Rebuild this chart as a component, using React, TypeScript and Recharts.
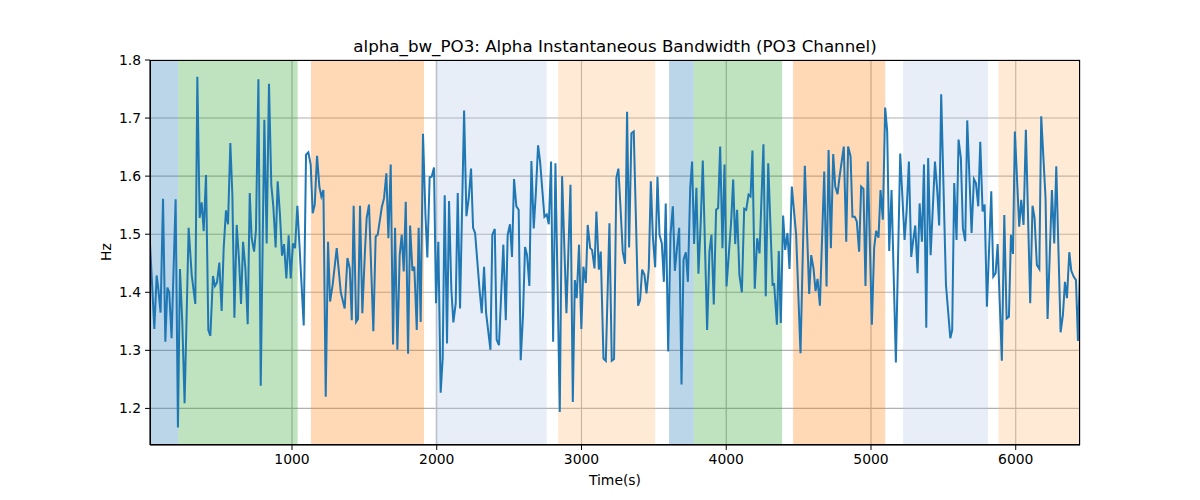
import React from "react";
import {
  LineChart, Line, XAxis, YAxis, CartesianGrid, ReferenceArea,
} from "recharts";

// time stamps (s) and alpha bandwidth (Hz)
const times = [
  19, 49, 65, 76, 92, 109, 125, 139, 152, 168, 196, 212, 226, 242, 258, 286, 307, 332, 346, 362,
  376, 390, 406, 422, 436, 454, 468, 482, 498, 514, 528, 544, 558, 574, 588, 602, 618, 634, 648, 662,
  678, 694, 708, 721, 738, 751, 768, 784, 809,
  825, 841, 857, 871, 887, 901, 917, 931, 945, 961, 977, 991, 1007, 1021, 1037, 1081, 1097, 1113, 1129, 1143,
  1157, 1173, 1189, 1203, 1217, 1233, 1249, 1263, 1281, 1309, 1337, 1364, 1383, 1399, 1413, 1426, 1443, 1456, 1470, 1486,
  1505, 1516, 1532, 1562, 1578, 1592,
  1620, 1636, 1652, 1666, 1682, 1698, 1712, 1728, 1744, 1758, 1772, 1786, 1802, 1816, 1832, 1845, 1862, 1875, 1889, 1905,
  1922, 1935, 1951, 1965, 1981, 1995, 2011, 2027, 2041, 2055, 2071, 2085, 2101, 2115, 2131, 2145, 2161, 2189, 2205, 2221,
  2237, 2251, 2265, 2295, 2311, 2327, 2341, 2371,
  2384, 2401, 2414, 2430, 2460, 2477, 2490, 2506, 2520, 2534, 2550, 2566, 2580, 2596, 2610, 2624, 2640, 2654, 2670, 2684,
  2700, 2714, 2730, 2744, 2760, 2774, 2790, 2804, 2820, 2850, 2866, 2896, 2924, 2940, 2954, 2967, 2983, 2999, 3013, 3030,
  3043, 3060, 3073, 3090, 3103, 3120, 3133, 3152, 3168, 3193,
  3209, 3225, 3241, 3255, 3271, 3285, 3301, 3315, 3329, 3345, 3361, 3391, 3405, 3419, 3435, 3449, 3465, 3479, 3493, 3509,
  3525, 3539, 3555, 3569, 3582, 3599, 3615, 3631, 3645, 3661, 3675, 3691, 3705, 3721, 3735, 3751, 3764, 3778, 3794, 3808,
  3824, 3838, 3868, 3884, 3898, 3914, 3930, 3944, 3958, 3974, 3988,
  4002, 4034, 4048, 4062, 4075, 4091, 4108, 4124, 4138, 4154, 4168, 4181, 4197, 4214, 4230, 4257, 4273, 4290, 4320, 4331,
  4350, 4363, 4377, 4393, 4407, 4423, 4437, 4453, 4483, 4513, 4543, 4573, 4587, 4603, 4617, 4631, 4647, 4677, 4693, 4707,
  4723, 4739, 4753,
  4769, 4783, 4812, 4829, 4842, 4859, 4872, 4888, 4902, 4918, 4932, 4948, 4962, 4978, 5006, 5022, 5036, 5052, 5066, 5082,
  5098, 5112, 5126, 5142, 5172, 5202, 5232, 5246, 5262, 5278, 5292, 5306, 5322, 5336, 5352, 5366, 5382, 5395, 5412, 5442,
  5458, 5471, 5485, 5518, 5548,
  5561, 5575, 5591, 5605, 5621, 5635, 5651, 5665, 5695, 5711, 5725, 5741, 5755, 5771, 5785, 5801, 5831, 5845, 5861, 5875,
  5904, 5921, 5937, 5953, 5967, 5981, 5994, 6024, 6038, 6054, 6070, 6100, 6116, 6130, 6146, 6163, 6176, 6206, 6220, 6250,
  6266, 6280, 6310, 6326, 6340, 6354, 6370, 6384, 6400, 6416, 6430, 6444,
];

const bandwidth = [
  1.484, 1.337, 1.429, 1.407, 1.365, 1.561, 1.315, 1.408, 1.4, 1.321, 1.56, 1.167, 1.44, 1.349, 1.209, 1.511, 1.43, 1.38, 1.771, 1.528,
  1.555, 1.505, 1.602, 1.335, 1.325, 1.428, 1.411, 1.417, 1.451, 1.368, 1.476, 1.541, 1.517, 1.657, 1.568, 1.356, 1.516, 1.456, 1.38, 1.487,
  1.441, 1.345, 1.571, 1.494, 1.47, 1.507, 1.767, 1.239, 1.697,
  1.484, 1.759, 1.585, 1.548, 1.477, 1.591, 1.533, 1.463, 1.483, 1.424, 1.498, 1.424, 1.484, 1.476, 1.549, 1.343, 1.637, 1.641, 1.62, 1.536,
  1.551, 1.635, 1.582, 1.565, 1.576, 1.22, 1.487, 1.384, 1.413, 1.476, 1.4, 1.372, 1.459, 1.441, 1.352, 1.549, 1.349, 1.354, 1.549, 1.364,
  1.476, 1.528, 1.551, 1.333, 1.496, 1.499,
  1.546, 1.562, 1.605, 1.493, 1.62, 1.31, 1.511, 1.301, 1.464, 1.499, 1.436, 1.556, 1.294, 1.515, 1.437, 1.444, 1.335, 1.511, 1.349, 1.673,
  1.533, 1.46, 1.598, 1.599, 1.615, 1.381, 1.487, 1.227, 1.286, 1.567, 1.312, 1.557, 1.404, 1.348, 1.381, 1.571, 1.372, 1.713, 1.531, 1.562,
  1.613, 1.511, 1.502, 1.407, 1.364, 1.444, 1.364, 1.301,
  1.499, 1.509, 1.318, 1.309, 1.482, 1.352, 1.499, 1.517, 1.461, 1.595, 1.548, 1.542, 1.283, 1.361, 1.478, 1.464, 1.411, 1.626, 1.51, 1.568,
  1.653, 1.625, 1.574, 1.53, 1.534, 1.517, 1.625, 1.315, 1.622, 1.194, 1.6, 1.364, 1.585, 1.211, 1.421, 1.39, 1.482, 1.337, 1.444, 1.416,
  1.516, 1.476, 1.473, 1.441, 1.539, 1.439, 1.47, 1.286, 1.282, 1.519,
  1.282, 1.285, 1.597, 1.613, 1.539, 1.47, 1.449, 1.711, 1.477, 1.674, 1.677, 1.377, 1.387, 1.439, 1.43, 1.398, 1.441, 1.591, 1.496, 1.443,
  1.599, 1.499, 1.484, 1.418, 1.553, 1.298, 1.499, 1.548, 1.437, 1.479, 1.511, 1.241, 1.456, 1.469, 1.418, 1.579, 1.625, 1.483, 1.58, 1.432,
  1.522, 1.627, 1.335, 1.47, 1.499, 1.379, 1.542, 1.545, 1.651, 1.476, 1.62,
  1.41, 1.522, 1.594, 1.483, 1.542, 1.43, 1.4, 1.544, 1.542, 1.568, 1.565, 1.644, 1.406, 1.493, 1.467, 1.655, 1.393, 1.622, 1.413, 1.414,
  1.344, 1.471, 1.347, 1.532, 1.473, 1.502, 1.44, 1.582, 1.499, 1.295, 1.618, 1.397, 1.464, 1.441, 1.402, 1.423, 1.377, 1.608, 1.41, 1.645,
  1.476, 1.638, 1.582,
  1.569, 1.599, 1.651, 1.487, 1.651, 1.634, 1.53, 1.53, 1.522, 1.47, 1.582, 1.578, 1.411, 1.625, 1.344, 1.477, 1.506, 1.494, 1.576, 1.525,
  1.718, 1.677, 1.471, 1.576, 1.279, 1.639, 1.49, 1.539, 1.625, 1.461, 1.49, 1.515, 1.433, 1.553, 1.487, 1.62, 1.339, 1.631, 1.464, 1.625,
  1.574, 1.515, 1.741, 1.413, 1.321,
  1.335, 1.588, 1.49, 1.663, 1.631, 1.51, 1.488, 1.696, 1.502, 1.595, 1.588, 1.548, 1.659, 1.539, 1.551, 1.375, 1.574, 1.427, 1.433, 1.483,
  1.282, 1.533, 1.355, 1.358, 1.499, 1.466, 1.677, 1.513, 1.559, 1.516, 1.68, 1.381, 1.549, 1.528, 1.447, 1.44, 1.703, 1.562, 1.354, 1.576,
  1.484, 1.617, 1.331, 1.361, 1.418, 1.39, 1.469, 1.437, 1.427, 1.421, 1.316, 1.446,
];

// shaded segments
const segStart = [19, 214, 1131, 1988, 2838, 3605, 3776, 4462, 5222, 5881];
const segEnd = [214, 1039, 1912, 2760, 3509, 3776, 4386, 5098, 5808, 6444];
const segKind = ["a", "b", "c", "d", "e", "a", "b", "c", "d", "e"];

const xTicks = [1000, 2000, 3000, 4000, 5000, 6000];
const yTicks = [1.2, 1.3, 1.4, 1.5, 1.6, 1.7, 1.8];

const SEG_COLORS: Record<string, string> = {
  a: "#1f77b4",
  b: "#2ca02c",
  c: "#ff7f0e",
  d: "#aec7e8",
  e: "#ffbb78",
};

const FONT = "'DejaVu Sans', sans-serif";

export default function App() {
  const data = times.map((t, i) => ({ t, v: bandwidth[i] }));
  const tickStyle = { fill: "#000", fontSize: 13.9, fontFamily: FONT };

  return (
    <div style={{ position: "absolute", left: 0, top: 0, width: 1200, height: 500, background: "#fff" }}>
      <LineChart
        width={1200}
        height={500}
        data={data}
        margin={{ top: 60, right: 120, bottom: 0, left: 0 }}
      >
        {segStart.map((s, i) => (
          <ReferenceArea
            key={i}
            x1={s}
            x2={segEnd[i]}
            fill={SEG_COLORS[segKind[i]]}
            fillOpacity={0.3}
            stroke="none"
            ifOverflow="hidden"
          />
        ))}
        <CartesianGrid stroke="#b0b0b0" strokeWidth={1.1} />
        <XAxis
          dataKey="t"
          type="number"
          domain={[19, 6444]}
          ticks={xTicks}
          allowDataOverflow
          height={55}
          tickSize={5}
          tickMargin={4}
          stroke="#000"
          tick={tickStyle}
        />
        <YAxis
          type="number"
          domain={[1.137, 1.8]}
          ticks={yTicks}
          allowDataOverflow
          width={150}
          tickSize={5}
          tickMargin={4}
          stroke="#000"
          tick={tickStyle}
          tickFormatter={(v: number) => v.toFixed(1)}
        />
        <Line
          type="linear"
          dataKey="v"
          stroke="#1f77b4"
          strokeWidth={2}
          dot={false}
          isAnimationActive={false}
        />
      </LineChart>
      <div
        style={{
          position: "absolute", left: 150, top: 60, width: 930, height: 385,
          border: "1.1px solid #000", boxSizing: "border-box", pointerEvents: "none",
        }}
      />
      <svg width={1200} height={500} style={{ position: "absolute", left: 0, top: 0, pointerEvents: "none" }}>
        <text x={615} y={52} textAnchor="middle" fontFamily={FONT} fontSize={16.7} fill="#000">
          alpha_bw_PO3: Alpha Instantaneous Bandwidth (PO3 Channel)
        </text>
        <text x={615} y={485} textAnchor="middle" fontFamily={FONT} fontSize={13.9} fill="#000">
          Time(s)
        </text>
        <text
          x={111}
          y={252}
          textAnchor="middle"
          fontFamily={FONT}
          fontSize={13.9}
          fill="#000"
          transform="rotate(-90 111 252)"
        >
          Hz
        </text>
      </svg>
    </div>
  );
}
